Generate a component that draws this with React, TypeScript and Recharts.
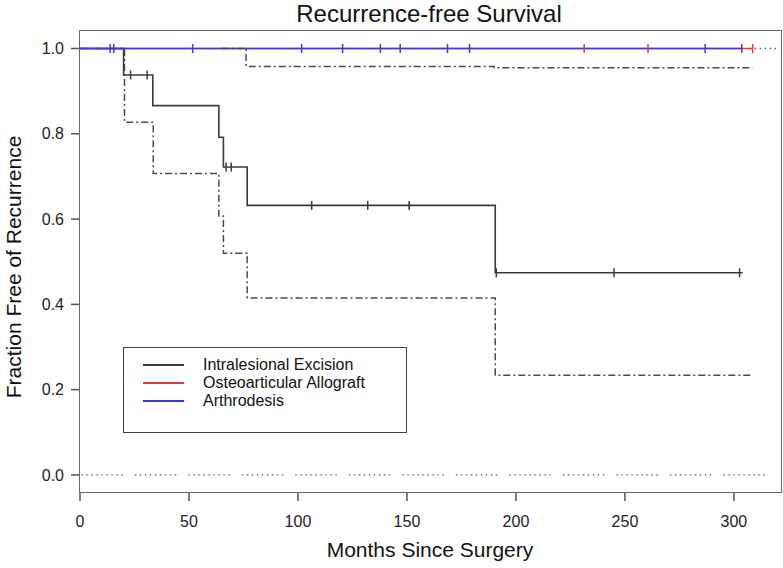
import React from 'react';
import { ComposedChart, Line, Scatter, XAxis, YAxis, Label } from 'recharts';

const W = 783;
const H = 568;
const FONT = '"Liberation Sans", Arial, Helvetica, sans-serif';

const chartTitle = 'Recurrence-free Survival';
const xTitle = 'Months Since Surgery';
const yTitle = 'Fraction Free of Recurrence';

const xTicks = [0, 50, 100, 150, 200, 250, 300];
const yTicks = [0, 0.2, 0.4, 0.6, 0.8, 1.0];

const groups = ['Intralesional Excision', 'Osteoarticular Allograft', 'Arthrodesis'];
const groupColors = ['#3a3a3a', '#e8393b', '#3c3cd4'];

// Intralesional Excision (Kaplan-Meier estimate)
const intraTimes = [0, 20, 33.4, 63.7, 65.8, 76.7, 190.5, 304];
const intraSurv = [1, 0.938, 0.866, 0.792, 0.722, 0.632, 0.474, 0.474];
const intraCensorTimes = [23.2, 30.8, 67, 69.4, 106.3, 132, 151, 191, 245, 302.6];
const intraCensorSurv = [0.938, 0.938, 0.722, 0.722, 0.632, 0.632, 0.632, 0.474, 0.474, 0.474];

// Intralesional lower confidence bound
const intraLowerTimes = [0, 20.4, 33.6, 63.7, 65.8, 76.7, 190.5, 308.6];
const intraLowerSurv = [1, 0.827, 0.707, 0.607, 0.52, 0.415, 0.234, 0.234];

// Osteoarticular Allograft
const alloTimes = [0, 308.6];
const alloSurv = [1, 1];
const alloCensorTimes = [231.3, 260.6, 308.6];
const alloCensorSurv = [1, 1, 1];

// Arthrodesis
const arthTimes = [0, 303.6];
const arthSurv = [1, 1];
const arthCensorTimes = [13.8, 15.5, 51.7, 101.7, 120.5, 137.8, 146.9, 168.6, 178.7, 286.8, 303.6];
const arthCensorSurv = [1, 1, 1, 1, 1, 1, 1, 1, 1, 1, 1];

// other confidence bounds
const otherLowerTimes = [65, 76.2, 190, 308.6];
const otherLowerSurv = [1, 0.958, 0.955, 0.955];
const upperDotTimes = [309.5, 320];
const upperDotSurv = [1, 1];
const zeroDotTimes = [0.6, 319.5];
const zeroDotSurv = [0, 0];

const pts = (ts: number[], ss: number[]) => ts.map((t, i) => ({ t, s: ss[i] }));

const makeCensor = (color: string) => (props: any) => {
  const { cx, cy } = props;
  if (cx == null || cy == null) return <g />;
  return <line x1={cx} x2={cx} y1={cy - 4.5} y2={cy + 4.5} stroke={color} strokeWidth={1.5} />;
};

const dotGroup = Array(8).fill('1.5 3.5').join(' ');
const zeroDash = dotGroup + ' 1.5 12';

export default function App() {
  return (
    <div style={{ position: 'absolute', left: 0, top: 0, width: W, height: H, background: '#fff', fontFamily: FONT }}>
      <div
        style={{
          position: 'absolute',
          left: 0,
          top: 1,
          width: 858,
          textAlign: 'center',
          fontSize: 24,
          lineHeight: '26px',
          color: '#111',
        }}
      >
        {chartTitle}
      </div>
      <ComposedChart width={W} height={H} margin={{ top: 31, right: 2, bottom: 0, left: 0 }}>
        <XAxis
          type="number"
          dataKey="t"
          domain={[0, 321.6]}
          ticks={xTicks}
          interval={0}
          axisLine={false}
          tickLine={{ stroke: '#555', strokeWidth: 1.5 }}
          tickSize={9}
          tickMargin={15}
          height={76}
          tick={{ fontSize: 16, fill: '#222', fontFamily: FONT }}
        >
          <Label
            content={() => (
              <text x={430} y={557} textAnchor="middle" fontSize={21} fill="#111" fontFamily={FONT}>
                {xTitle}
              </text>
            )}
          />
        </XAxis>
        <YAxis
          type="number"
          domain={[-0.04, 1.041]}
          ticks={yTicks}
          interval={0}
          tickFormatter={(v: number) => v.toFixed(1)}
          width={80}
          axisLine={false}
          tickLine={{ stroke: '#555', strokeWidth: 1.5 }}
          tickSize={9}
          tickMargin={7}
          tick={{ fontSize: 16, fill: '#222', fontFamily: FONT }}
        >
          <Label
            content={() => (
              <text
                x={21}
                y={267}
                transform="rotate(-90 21 267)"
                textAnchor="middle"
                fontSize={21}
                fill="#111"
                fontFamily={FONT}
              >
                {yTitle}
              </text>
            )}
          />
        </YAxis>

        <Line
          data={pts(zeroDotTimes, zeroDotSurv)}
          dataKey="s"
          type="linear"
          stroke="#666"
          strokeWidth={1.3}
          strokeDasharray={zeroDash}
          dot={false}
          activeDot={false}
          isAnimationActive={false}
        />
        <Line
          data={pts(intraLowerTimes, intraLowerSurv)}
          dataKey="s"
          type="stepAfter"
          stroke="#4a4a4a"
          strokeWidth={1.5}
          strokeDasharray="7 3 2 3"
          dot={false}
          activeDot={false}
          isAnimationActive={false}
        />
        <Line
          data={pts(intraTimes, intraSurv)}
          dataKey="s"
          type="stepAfter"
          stroke={groupColors[0]}
          strokeWidth={1.6}
          dot={false}
          activeDot={false}
          isAnimationActive={false}
        />
        <Line
          data={pts(alloTimes, alloSurv)}
          dataKey="s"
          type="stepAfter"
          stroke={groupColors[1]}
          strokeWidth={1.5}
          dot={false}
          activeDot={false}
          isAnimationActive={false}
        />
        <Line
          data={pts(arthTimes, arthSurv)}
          dataKey="s"
          type="stepAfter"
          stroke={groupColors[2]}
          strokeWidth={1.5}
          dot={false}
          activeDot={false}
          isAnimationActive={false}
        />
        <Line
          data={pts(otherLowerTimes, otherLowerSurv)}
          dataKey="s"
          type="stepAfter"
          stroke="#4a4a4a"
          strokeWidth={1.5}
          strokeDasharray="7 3 2 3"
          dot={false}
          activeDot={false}
          isAnimationActive={false}
        />
        <Line
          data={pts(upperDotTimes, upperDotSurv)}
          dataKey="s"
          type="linear"
          stroke="#666"
          strokeWidth={1.3}
          strokeDasharray="1.5 3.5"
          dot={false}
          activeDot={false}
          isAnimationActive={false}
        />
        <Scatter
          data={pts(intraCensorTimes, intraCensorSurv)}
          dataKey="s"
          shape={makeCensor(groupColors[0])}
          isAnimationActive={false}
        />
        <Scatter
          data={pts(arthCensorTimes, arthCensorSurv)}
          dataKey="s"
          shape={makeCensor(groupColors[2])}
          isAnimationActive={false}
        />
        <Scatter
          data={pts(alloCensorTimes, alloCensorSurv)}
          dataKey="s"
          shape={makeCensor(groupColors[1])}
          isAnimationActive={false}
        />
      </ComposedChart>

      {/* plot frame */}
      <div
        style={{
          position: 'absolute',
          left: 79,
          top: 30,
          width: 703,
          height: 463,
          boxSizing: 'border-box',
          border: '1.5px solid #666',
          pointerEvents: 'none',
        }}
      />

      {/* legend */}
      <div
        style={{
          position: 'absolute',
          left: 123,
          top: 347,
          width: 284,
          height: 86,
          boxSizing: 'border-box',
          border: '1.5px solid #444',
          background: '#fff',
        }}
      >
        {groups.map((g, i) => (
          <div
            key={g}
            style={{
              position: 'absolute',
              left: 19,
              top: 8 + i * 18,
              height: 18,
              display: 'flex',
              alignItems: 'center',
              whiteSpace: 'nowrap',
            }}
          >
            <div style={{ width: 41, height: 2, background: groupColors[i], flex: 'none' }} />
            <span style={{ marginLeft: 19, fontSize: 16, color: '#111', lineHeight: '18px' }}>{g}</span>
          </div>
        ))}
      </div>
    </div>
  );
}
